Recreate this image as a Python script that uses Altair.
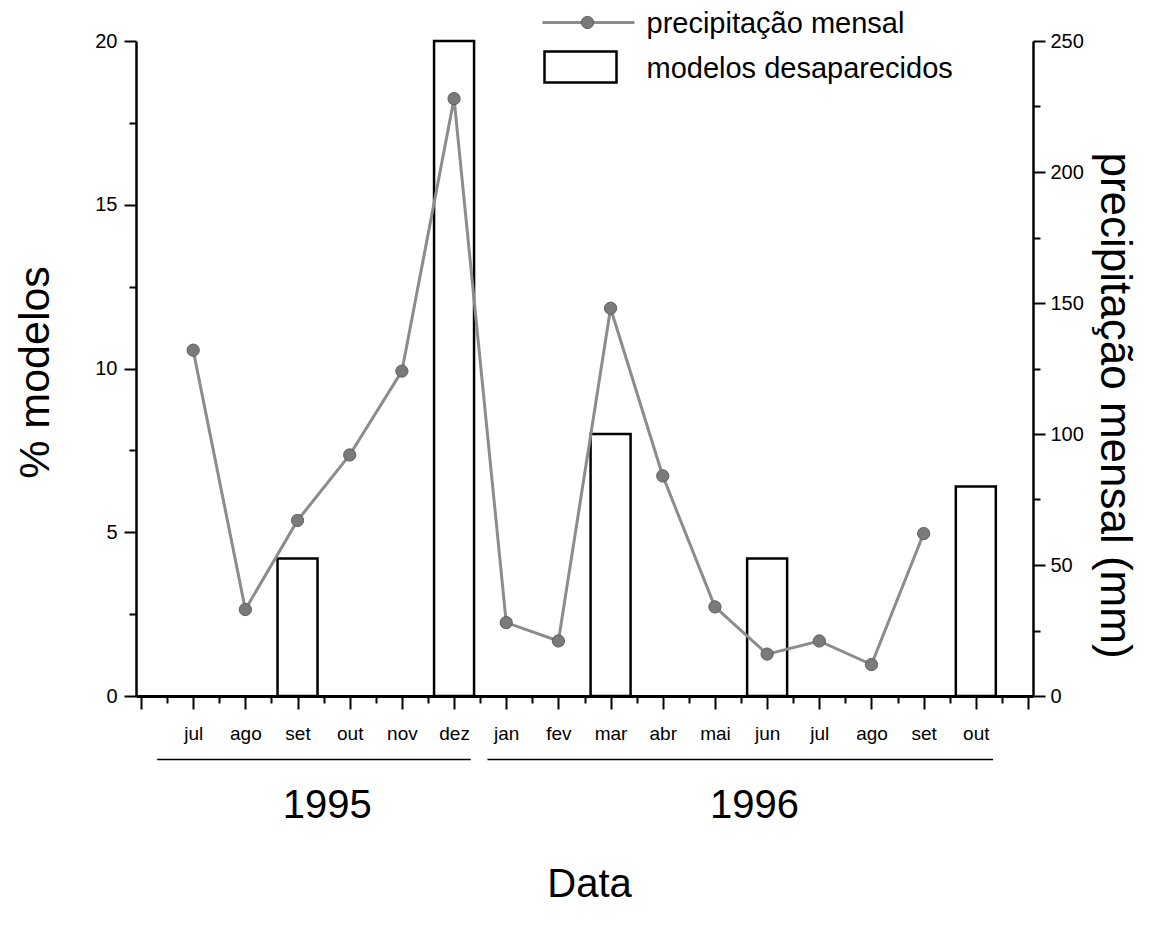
import altair as alt
import pandas as pd

# ---- data -----------------------------------------------------------------
months = ["jul", "ago", "set", "out", "nov", "dez", "jan", "fev",
          "mar", "abr", "mai", "jun", "jul", "ago", "set", "out"]
month_pos = list(range(1, 17))                      # jul/1995 .. out/1996
precip_mm = [132, 33, 67, 92, 124, 228, 28, 21,
             148, 84, 34, 16, 21, 12, 62]           # jul/1995 .. set/1996
bar_pos = [3, 6, 9, 12, 16]                         # set, dez, mar, jun, out
bar_pct = [4.2, 20.0, 8.0, 4.2, 6.4]

years = ["1995", "1996"]
year_start = [0.31, 6.64]
year_end = [6.32, 16.33]
year_mid = [3.57, 11.76]

x_ticks = list(range(0, 18))
x_minor = [i + 0.5 for i in range(17)]
pct_ticks = [0, 5, 10, 15, 20]
pct_minor = [2.5, 7.5, 12.5, 17.5]
mm_ticks = [0, 50, 100, 150, 200, 250]
mm_minor = [25, 75, 125, 175, 225]

legend_labels = ["precipitação mensal", "modelos desaparecidos"]

# ---- styling ----------------------------------------------------------------
FONT = "Liberation Sans"
LINE_GRAY = "#8c8c8c"
DOT_GRAY = "#7a7a7a"

line_df = pd.DataFrame({"pos": month_pos[:len(precip_mm)],
                        "mes": months[:len(precip_mm)],
                        "mm": precip_mm})
bar_df = pd.DataFrame({"pos": bar_pos, "pct": bar_pct})
year_df = pd.DataFrame({"ano": years, "ini": year_start,
                        "fim": year_end, "meio": year_mid})
one = pd.DataFrame({"k": [0]})

x_scale = alt.Scale(domain=[0, 17], nice=False, zero=False)
pct_scale = alt.Scale(domain=[0, 20], nice=False)
mm_scale = alt.Scale(domain=[0, 250], nice=False)

label_expr = "[" + ",".join(f"'{m}'" for m in [""] + months + [""]) + "][datum.value]"

x_major_axis = alt.Axis(
    orient="bottom", values=x_ticks, grid=False,
    tickSize=13, tickWidth=2, tickColor="black",
    domainColor="black", domainWidth=3,
    labelExpr=label_expr, labelFont=FONT, labelFontSize=19, labelColor="black",
    labelBaseline="middle", labelPadding=24, labelAngle=0, labelOverlap=False,
    title="Data", titleFont=FONT, titleFontSize=40, titleFontWeight="normal",
    titleColor="black", titleX=453, titleY=188, titleBaseline="middle",
    titleAlign="center",
)
x_minor_axis = alt.Axis(
    orient="bottom", values=x_minor, grid=False, tickSize=7, tickWidth=2,
    tickColor="black", labels=False, domain=False, title=None,
)
left_major = alt.Axis(
    orient="left", values=pct_ticks, grid=False,
    tickSize=12, tickWidth=2, tickColor="black",
    domainColor="black", domainWidth=2.5,
    labelFont=FONT, labelFontSize=20, labelColor="black", labelPadding=7,
    title="% modelos", titleFont=FONT, titleFontSize=43,
    titleFontWeight="normal", titleColor="black", titleAngle=-90,
    titleX=-101, titleY=331, titleBaseline="middle", titleAlign="center",
)
left_minor = alt.Axis(
    orient="left", values=pct_minor, grid=False, tickSize=7, tickWidth=2,
    tickColor="black", labels=False, domain=False, title=None,
)
right_major = alt.Axis(
    orient="right", values=mm_ticks, grid=False,
    tickSize=12, tickWidth=2, tickColor="black",
    domainColor="black", domainWidth=2.5,
    labelFont=FONT, labelFontSize=20, labelColor="black", labelPadding=5,
    title="precipitação mensal (mm)", titleFont=FONT, titleFontSize=44,
    titleFontWeight="normal", titleColor="black", titleAngle=90,
    titleX=80, titleY=364, titleBaseline="middle", titleAlign="center",
)
right_minor = alt.Axis(
    orient="right", values=mm_minor, grid=False, tickSize=7, tickWidth=2,
    tickColor="black", labels=False, domain=False, title=None,
)

# ---- marks ------------------------------------------------------------------
bars = alt.Chart(bar_df).mark_bar(
    size=40, fill="white", stroke="black", strokeWidth=2.5
).encode(
    x=alt.X("pos:Q", scale=x_scale, axis=x_major_axis),
    y=alt.Y("pct:Q", scale=pct_scale, axis=left_major),
)

ticks_left = alt.Chart(bar_df).mark_point(opacity=0).encode(
    x=alt.X("pos:Q", scale=x_scale, axis=x_minor_axis),
    y=alt.Y("pct:Q", scale=pct_scale, axis=left_minor),
)

rain_line = alt.Chart(line_df).mark_line(
    color=LINE_GRAY, strokeWidth=3
).encode(
    x=alt.X("pos:Q", scale=x_scale, axis=None),
    y=alt.Y("mm:Q", scale=mm_scale, axis=right_major),
)

rain_pts = alt.Chart(line_df).mark_circle(
    size=150, color=DOT_GRAY, opacity=1, stroke="#5e5e5e", strokeWidth=1
).encode(
    x=alt.X("pos:Q", scale=x_scale, axis=None),
    y=alt.Y("mm:Q", scale=mm_scale, axis=None),
)

ticks_right = alt.Chart(line_df).mark_point(opacity=0).encode(
    x=alt.X("pos:Q", scale=x_scale, axis=None),
    y=alt.Y("mm:Q", scale=mm_scale, axis=right_minor),
)

year_rules = alt.Chart(year_df).mark_rule(color="black", strokeWidth=1.5).encode(
    x=alt.X("ini:Q", scale=x_scale, axis=None),
    x2="fim:Q",
    y=alt.value(718.5),
)

year_text = alt.Chart(year_df).mark_text(
    font=FONT, fontSize=40, baseline="middle", align="center", color="black"
).encode(
    x=alt.X("meio:Q", scale=x_scale, axis=None),
    y=alt.value(765),
    text="ano:N",
)

# legend (upper right)
leg_line = alt.Chart(one).mark_rule(color=LINE_GRAY, strokeWidth=3).encode(
    x=alt.value(406.5), x2=alt.value(498.5), y=alt.value(-18.5)
)
leg_dot = alt.Chart(one).mark_circle(
    size=150, color=DOT_GRAY, opacity=1, stroke="#5e5e5e", strokeWidth=1
).encode(x=alt.value(451.5), y=alt.value(-18.5))
leg_box = alt.Chart(one).mark_rect(
    fill="white", stroke="black", strokeWidth=2.5
).encode(x=alt.value(408.5), x2=alt.value(480.5),
         y=alt.value(10.5), y2=alt.value(41.5))
leg_text = [
    alt.Chart(one).mark_text(
        text=lbl, font=FONT, fontSize=29, align="left", baseline="middle",
        color="black"
    ).encode(x=alt.value(510.5), y=alt.value(ly))
    for lbl, ly in zip(legend_labels, [-17.5, 27.5])
]

chart = alt.layer(
    bars, ticks_left, rain_line, rain_pts, ticks_right,
    year_rules, year_text, leg_line, leg_dot, leg_box, *leg_text,
).resolve_scale(
    y="independent"
).resolve_axis(
    x="independent", y="independent"
).properties(
    width=897, height=655,
    autosize=alt.AutoSizeParams(type="none"),
    padding={"left": 136, "top": 41, "right": 119, "bottom": 239},
    background="white",
).configure_view(stroke=None)

chart.save("out.html", embed_options={"renderer": "svg", "actions": False})
